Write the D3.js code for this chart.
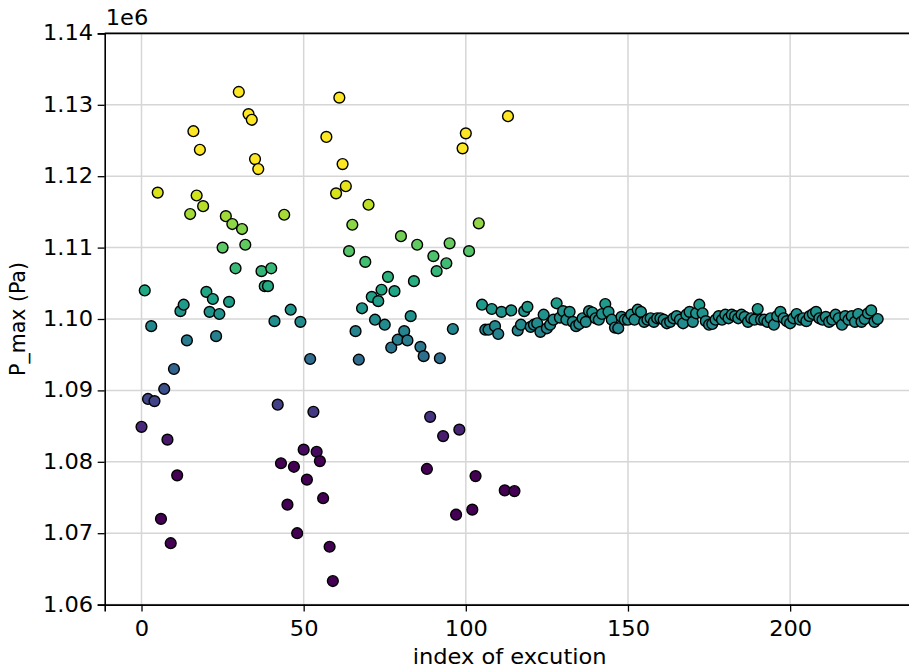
<!DOCTYPE html>
<html>
<head>
<meta charset="utf-8">
<script src="https://cdn.jsdelivr.net/npm/d3@7"></script>
<style>
  html, body { margin: 0; padding: 0; background: #fff; }
  svg { display: block; }
  text { font-family: "DejaVu Sans", sans-serif; fill: #000; }
</style>
</head>
<body>
<div id="chart"></div>
<script>
// Maximum pressure per run, in kPa (axis shows it in units of 1e6 Pa).
const pMaxKPa = [
  1084.9, 1104.0, 1088.8, 1099.0, 1088.5, 1117.7, 1072.0, 1090.2, 1083.1, 1068.6,
  1093.0, 1078.1, 1101.1, 1102.0, 1097.0, 1114.7, 1126.3, 1117.3, 1123.7, 1115.8,
  1103.8, 1101.0, 1102.8, 1097.6, 1100.7, 1110.0, 1114.4, 1102.4, 1113.3, 1107.1,
  1131.8, 1112.6, 1110.4, 1128.7, 1127.9, 1122.4, 1121.0, 1106.7, 1104.6, 1104.6,
  1107.1, 1099.7, 1088.0, 1079.8, 1114.6, 1074.0, 1101.3, 1079.3, 1070.0, 1099.6,
  1081.7, 1077.5, 1094.4, 1087.0, 1081.4, 1080.1, 1074.9, 1125.5, 1068.1, 1063.3,
  1117.6, 1131.0, 1121.7, 1118.6, 1109.5, 1113.2, 1098.3, 1094.3, 1101.5, 1108.0,
  1116.0, 1103.1, 1099.9, 1102.5, 1104.1, 1099.2, 1105.9, 1096.0, 1103.9, 1097.1,
  1111.6, 1098.3, 1097.0, 1100.4, 1105.3, 1110.4, 1096.1, 1094.8, 1079.0, 1086.3,
  1108.8, 1106.7, 1094.5, 1083.6, 1107.8, 1110.6, 1098.6, 1072.6, 1084.5, 1123.9,
  1126.0, 1109.5, 1073.3, 1078.0, 1113.4, 1102.0, 1098.5, 1098.5, 1101.4, 1099.0,
  1097.9, 1101.0, 1076.0, 1128.4, 1101.2, 1075.9, 1098.4, 1099.2, 1101.1, 1101.7,
  1098.9, 1099.2, 1099.4, 1098.2, 1100.6, 1098.7, 1099.2, 1099.9, 1102.2, 1100.2,
  1101.1, 1099.9, 1101.0, 1099.6, 1099.0, 1099.3, 1100.1, 1099.6, 1101.1, 1100.9,
  1100.1, 1099.9, 1100.7, 1102.1, 1101.0, 1099.9, 1098.8, 1098.7, 1100.3, 1099.9,
  1099.9, 1100.6, 1099.9, 1101.3, 1101.0, 1099.6, 1099.9, 1100.1, 1099.6, 1100.1,
  1100.1, 1099.9, 1099.4, 1099.6, 1100.1, 1100.4, 1099.9, 1099.4, 1100.6, 1101.0,
  1099.6, 1100.8, 1102.0, 1100.8, 1099.7, 1099.2, 1099.3, 1099.9, 1100.4, 1099.9,
  1100.6, 1100.1, 1100.6, 1100.4, 1100.1, 1100.6, 1100.3, 1099.6, 1100.1, 1099.9,
  1101.4, 1099.9, 1099.9, 1099.6, 1100.1, 1099.2, 1100.4, 1101.0, 1100.1, 1099.7,
  1099.4, 1100.1, 1100.7, 1099.9, 1100.1, 1099.7, 1100.4, 1100.7, 1101.0, 1100.1,
  1099.9, 1100.3, 1099.6, 1099.9, 1100.6, 1100.1, 1099.2, 1100.4, 1099.9, 1100.4,
  1099.6, 1100.7, 1099.6, 1100.0, 1100.8, 1101.2, 1099.6, 1100.0
];
const runIndex = pMaxKPa.map((_, i) => i);

const xTicks = [0, 50, 100, 150, 200];
const yTicks = [1.06, 1.07, 1.08, 1.09, 1.10, 1.11, 1.12, 1.13, 1.14];
const xDomain = [-11.35, 238.35];
const yDomain = [1.06, 1.14];
// colour limits (kPa); values outside are clamped to the ends of the map
const colorLimits = [1080.5, 1120.0];

const W = 909, H = 668;
const margin = { left: 104.7, top: 33.4, right: W - 914.5, bottom: H - 604.6 };
const fontSize = 20.5;
const stretch = 1.1;

const svg = d3.select("#chart").append("svg")
  .attr("width", W).attr("height", H);

const x = d3.scaleLinear().domain(xDomain).range([margin.left, W - margin.right]);
const y = d3.scaleLinear().domain(yDomain).range([H - margin.bottom, margin.top]);

const color = d3.scaleSequential(d3.interpolateViridis).domain(colorLimits).clamp(true);

// grid
const grid = svg.append("g").attr("class", "grid");
grid.selectAll("line.gx").data(xTicks).join("line")
  .attr("x1", d => x(d)).attr("x2", d => x(d))
  .attr("y1", y(yDomain[0])).attr("y2", y(yDomain[1]))
  .attr("stroke", "#d6d6d6").attr("stroke-width", 1.5);
grid.selectAll("line.gy").data(yTicks).join("line")
  .attr("x1", x(xDomain[0])).attr("x2", x(xDomain[1]))
  .attr("y1", d => y(d)).attr("y2", d => y(d))
  .attr("stroke", "#d6d6d6").attr("stroke-width", 1.5);

// points
svg.append("g").selectAll("circle").data(runIndex).join("circle")
  .attr("cx", i => x(i))
  .attr("cy", i => y(pMaxKPa[i] / 1000))
  .attr("r", 5.4)
  .attr("fill", i => color(pMaxKPa[i]))
  .attr("stroke", "#000")
  .attr("stroke-width", 1.4);

// axes
const xAxis = d3.axisBottom(x).tickValues(xTicks).tickSize(7).tickPadding(10)
  .tickFormat(d3.format("d"));
const yAxis = d3.axisLeft(y).tickValues(yTicks).tickSize(7).tickPadding(7)
  .tickFormat(d3.format(".2f"));

const gx = svg.append("g").attr("transform", `translate(0,${y(yDomain[0])})`).call(xAxis);
const gy = svg.append("g").attr("transform", `translate(${x(xDomain[0])},0)`).call(yAxis);
[gx, gy].forEach(g => {
  g.select(".domain").attr("stroke", "#000").attr("stroke-width", 1.6);
  g.selectAll(".tick line").attr("stroke", "#000").attr("stroke-width", 1.3);
  g.selectAll(".tick text").attr("font-size", fontSize)
    .attr("font-family", "DejaVu Sans, sans-serif").attr("fill", "#000");
});
gx.selectAll(".tick text").attr("transform", `scale(${stretch},1)`);
gy.selectAll(".tick text").attr("x", 0).attr("transform", `translate(-11.5,0) scale(${stretch},1)`);

// top spine
svg.append("line")
  .attr("x1", x(xDomain[0])).attr("x2", x(xDomain[1]))
  .attr("y1", y(yDomain[1])).attr("y2", y(yDomain[1]))
  .attr("stroke", "#000").attr("stroke-width", 1.6);

// offset text
svg.append("text")
  .attr("transform", `translate(${x(xDomain[0]) + 1},${y(yDomain[1]) - 8}) scale(${stretch},1)`)
  .attr("font-size", fontSize).text("1e6");

// axis labels
svg.append("text")
  .attr("transform", `translate(${(x(xDomain[0]) + x(xDomain[1])) / 2},664) scale(${stretch},1)`)
  .attr("text-anchor", "middle").attr("font-size", fontSize)
  .text("index of excution");

svg.append("text")
  .attr("transform", `translate(25,${(y(yDomain[0]) + y(yDomain[1])) / 2}) rotate(-90)`)
  .attr("text-anchor", "middle").attr("font-size", fontSize)
  .text("P_max (Pa)");
</script>
</body>
</html>
